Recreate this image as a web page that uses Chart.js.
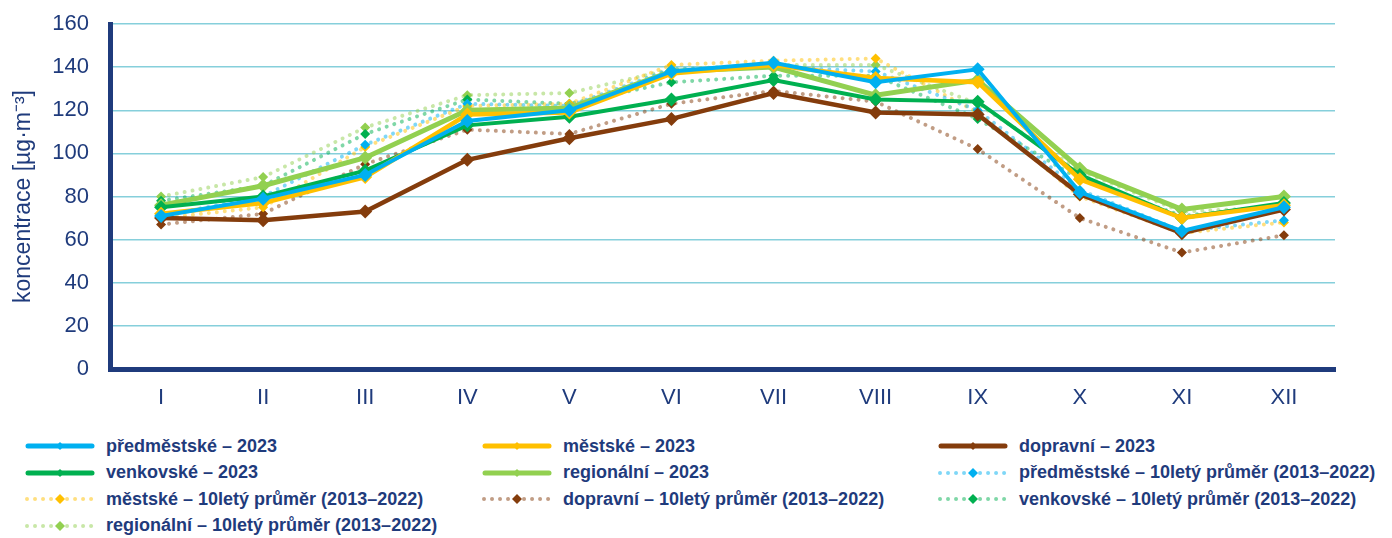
<!DOCTYPE html>
<html lang="cs">
<head>
<meta charset="utf-8">
<script src="https://cdn.jsdelivr.net/npm/chart.js@4.4.1/dist/chart.umd.min.js"></script>
<style>
  body { margin: 0; background: #fff; }
  #wrap { position: relative; width: 1392px; height: 538px; overflow: hidden; }
  #box { position: absolute; left: 0; top: 0; width: 1392px; height: 420px; }
  #legend { position: absolute; left: 0; top: 434px; width: 1392px; }
  .item { position: absolute; height: 24px; display: flex; align-items: center;
    font-family: "Liberation Sans Narrow", "Arial Narrow", "Liberation Sans", sans-serif;
    font-weight: bold; font-size: 18px; color: #1f3b7c; white-space: nowrap; }
  .item svg { margin-right: 11px; }
</style>
</head>
<body>
<div id="wrap">
  <div id="box"><canvas id="graf"></canvas></div>
  <div id="legend"></div>
</div>
<script>
// měsíce a hodnoty (µg·m⁻³)
const mesice = ["I", "II", "III", "IV", "V", "VI", "VII", "VIII", "IX", "X", "XI", "XII"];
const yTicks = [0, 20, 40, 60, 80, 100, 120, 140, 160];

const predmestske2023 = [71, 79, 90, 115, 120, 138, 142, 133, 139, 82, 64, 75];
const mestske2023     = [72, 77, 89, 118, 119, 137, 141, 135, 133, 88, 70, 76];
const dopravni2023    = [70, 69, 73, 97, 107, 116, 128, 119, 118, 81, 63, 74];
const venkovske2023   = [75, 80, 92, 113, 117, 125, 134, 125, 124, 90, 70, 77];
const regionalni2023  = [76, 85, 98, 120, 121, 138, 140, 127, 134, 93, 74, 80];

const predmestske10 = [71, 80, 104, 123, 122, 139, 140, 138, 120, 83, 64, 69];
const mestske10     = [70, 75, 103, 122, 123, 141, 143, 144, 119, 80, 63, 68];
const dopravni10    = [67, 72, 95, 111, 109, 123, 129, 124, 102, 70, 54, 62];
const venkovske10   = [78, 85, 109, 125, 123, 133, 136, 136, 116, 88, 71, 76];
const regionalni10  = [80, 89, 112, 127, 128, 139, 141, 141, 123, 92, 73, 75];

const NAVY = "#1f3b7c";
const barvy = {
  predmestske: "#00b0f0",
  mestske: "#ffc000",
  dopravni: "#843c0c",
  venkovske: "#00b050",
  regionalni: "#92d050"
};

function alpha(hex, a) {
  const n = parseInt(hex.slice(1), 16);
  return `rgba(${n >> 16},${(n >> 8) & 255},${n & 255},${a})`;
}

// plná čára = rok 2023
function plna(label, data, barva, sirka) {
  return {
    label, data, dotted: false, barva,
    borderColor: barva,
    backgroundColor: barva,
    borderWidth: sirka,
    pointStyle: "rectRot",
    pointRadius: 7,
    pointBackgroundColor: barva,
    pointBorderColor: barva,
    pointBorderWidth: 0,
    tension: 0,
    fill: false
  };
}

// tečkovaná čára = 10letý průměr
function teckovana(label, data, barva) {
  return {
    label, data, dotted: true, barva,
    borderColor: alpha(barva, 0.5),
    backgroundColor: barva,
    borderWidth: 4,
    borderDash: [0.01, 8],
    borderCapStyle: "round",
    pointStyle: "rectRot",
    pointRadius: 5,
    pointBackgroundColor: barva,
    pointBorderColor: barva,
    pointBorderWidth: 0,
    tension: 0,
    fill: false
  };
}

const datasets = [
  plna("předměstské – 2023", predmestske2023, barvy.predmestske, 4),
  plna("městské – 2023", mestske2023, barvy.mestske, 4.5),
  plna("dopravní – 2023", dopravni2023, barvy.dopravni, 4.5),
  plna("venkovské – 2023", venkovske2023, barvy.venkovske, 4),
  plna("regionální – 2023", regionalni2023, barvy.regionalni, 5),
  teckovana("předměstské – 10letý průměr (2013–2022)", predmestske10, barvy.predmestske),
  teckovana("městské – 10letý průměr (2013–2022)", mestske10, barvy.mestske),
  teckovana("dopravní – 10letý průměr (2013–2022)", dopravni10, barvy.dopravni),
  teckovana("venkovské – 10letý průměr (2013–2022)", venkovske10, barvy.venkovske),
  teckovana("regionální – 10letý průměr (2013–2022)", regionalni10, barvy.regionalni)
];

const tickFont = { family: "'Liberation Sans', Arial, sans-serif", size: 22 };

const chart = new Chart(document.getElementById("graf"), {
  type: "line",
  data: { labels: mesice, datasets },
  options: {
    responsive: true,
    maintainAspectRatio: false,
    animation: false,
    layout: { padding: { top: 24, right: 57, bottom: 0, left: 0 } },
    plugins: { legend: { display: false }, tooltip: { enabled: false } },
    scales: {
      x: {
        offset: true,
        grid: { display: false, drawTicks: false },
        border: { color: NAVY, width: 5 },
        ticks: { color: NAVY, font: tickFont, padding: 16 },
        afterFit: (s) => { s.height = 51; s.paddingLeft = 0; s.paddingRight = 0; }
      },
      y: {
        min: 0, max: 160,
        afterBuildTicks: (s) => { s.ticks = yTicks.map(v => ({ value: v })); },
        grid: { color: "#86cfdb", lineWidth: 1.5, drawTicks: false },
        border: { color: NAVY, width: 5 },
        ticks: { color: NAVY, font: tickFont, padding: 21 },
        title: {
          display: true,
          text: "koncentrace [µg·m⁻³]",
          color: NAVY,
          font: { family: "'Liberation Sans', Arial, sans-serif", size: 23 },
          padding: { top: 10, bottom: 6 }
        },
        afterFit: (s) => { s.width = 110; s.paddingTop = 0; s.paddingBottom = 0; }
      }
    }
  }
});

// legenda ve třech sloupcích
const sloupce = [{ line: 25, w: 70 }, { line: 482, w: 70 }, { line: 938, w: 70 }];
const legend = document.getElementById("legend");
chart.data.datasets.forEach((ds, i) => {
  const col = sloupce[i % 3];
  const row = Math.floor(i / 3);
  const el = document.createElement("div");
  el.className = "item";
  el.style.left = col.line + "px";
  el.style.top = (row * 26.5) + "px";
  const w = col.w;
  const line = ds.dotted
    ? `<line x1="2" y1="12" x2="${w - 2}" y2="12" stroke="${alpha(ds.barva, 0.5)}" stroke-width="4" stroke-linecap="round" stroke-dasharray="0.01 8"/>`
    : `<line x1="3" y1="12" x2="${w - 3}" y2="12" stroke="${ds.barva}" stroke-width="5" stroke-linecap="round"/>`;
  const d = ds.dotted ? 5 : 4;
  const c = w / 2;
  el.innerHTML = `<svg width="${w}" height="24">${line}<polygon points="${c},${12 - d} ${c + d},12 ${c},${12 + d} ${c - d},12" fill="${ds.barva}"/></svg><span>${ds.label}</span>`;
  legend.appendChild(el);
});
</script>
</body>
</html>
